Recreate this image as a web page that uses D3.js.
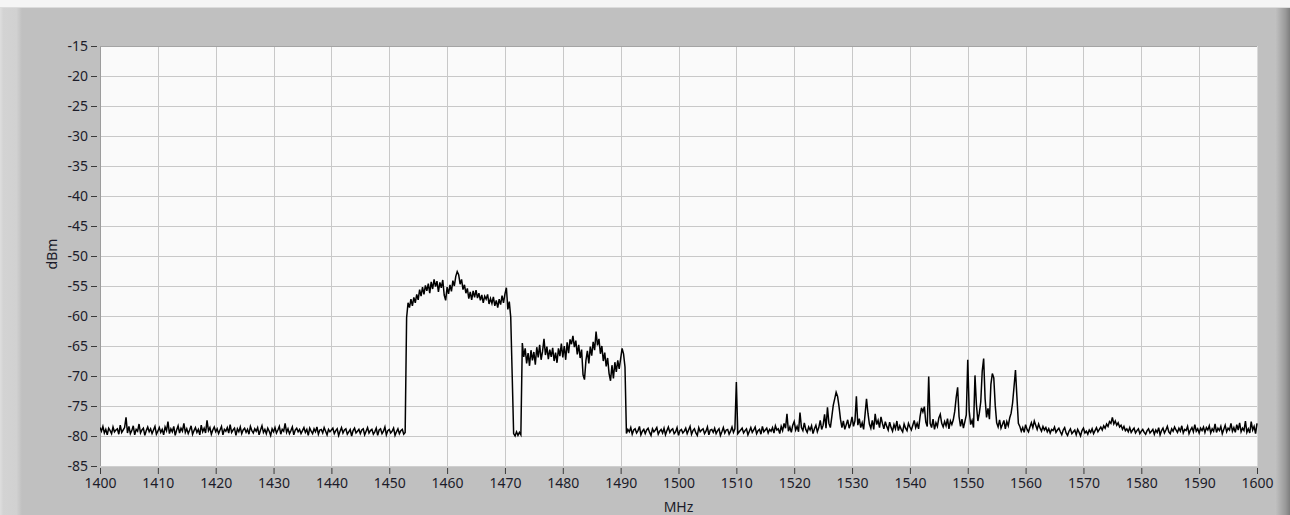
<!DOCTYPE html>
<html>
<head>
<meta charset="utf-8">
<script src="https://cdn.jsdelivr.net/npm/d3@7/dist/d3.min.js"></script>
<style>
  html, body { margin: 0; padding: 0; background: #c0c0c0; }
  svg { display: block; }
  .tick text { font-family: "Noto Sans", "Open Sans", sans-serif; font-size: 14px; fill: #1c1c2a; }
</style>
</head>
<body>
<svg id="chart" width="1290" height="515"></svg>
<script>
// ---------------- data ----------------
const xTickValues = [1400,1410,1420,1430,1440,1450,1460,1470,1480,1490,1500,1510,1520,1530,1540,1550,1560,1570,1580,1590,1600];
const xTickLabels = ["1400","1410","1420","1430","1440","1450","1460","1470","1480","1490","1500","1510","1520","1530","1540","1550","1560","1570","1580","1590","1600"];
const yTickValues = [-15,-20,-25,-30,-35,-40,-45,-50,-55,-60,-65,-70,-75,-80,-85];
const yTickLabels = ["-15","-20","-25","-30","-35","-40","-45","-50","-55","-60","-65","-70","-75","-80","-85"];
const xTitle = "MHz";
const yTitle = "dBm";

// sweep resolution (MHz per bin)
const sweepStep = 0.25;

// 1400 .. 1452.75 MHz
const floorLowStart = 1400;
const floorLow = [
-78.6,-79.2,-78.4,-79.5,-78.9,-79.8,-78.7,-79.1,-79.6,-78.5,-79.3,-79.0,-78.8,-79.7,-78.2,-79.4,-79.0,-78.6,-76.9,-79.5,
-78.4,-79.6,-79.1,-78.3,-79.8,-78.9,-79.2,-78.0,-79.5,-79.0,-78.7,-79.9,-79.1,-78.5,-79.3,-78.8,-79.6,-79.0,-78.4,-79.7,
-79.2,-78.6,-79.4,-78.9,-79.8,-78.5,-79.1,-77.6,-79.6,-78.8,-79.3,-78.4,-79.9,-79.0,-78.3,-79.5,-78.7,-79.2,-77.9,-79.4,
-78.8,-79.6,-79.0,-78.3,-79.7,-79.1,-78.6,-79.4,-78.9,-79.8,-78.2,-79.3,-78.7,-79.5,-77.4,-79.1,-78.6,-79.7,-79.0,-78.5,
-79.3,-78.8,-79.6,-79.0,-78.4,-79.8,-78.9,-79.2,-78.6,-79.5,-78.1,-79.4,-79.0,-78.7,-79.9,-78.8,-79.3,-78.5,-79.6,-79.0,
-78.7,-79.4,-78.9,-79.7,-78.4,-79.1,-79.5,-78.8,-79.2,-78.6,-79.8,-79.0,-78.3,-79.4,-78.9,-79.6,-78.7,-79.2,-79.9,-78.8,
-79.3,-78.6,-79.5,-79.0,-78.4,-79.7,-78.9,-79.2,-77.9,-79.4,-78.8,-79.6,-79.1,-78.5,-79.8,-79.0,-78.7,-79.3,-78.9,-79.6,
-79.1,-78.6,-79.4,-78.9,-79.9,-78.7,-79.2,-79.6,-78.8,-79.3,-78.5,-79.7,-79.0,-78.9,-79.5,-78.6,-79.2,-79.8,-78.9,-79.3,
-79.0,-78.7,-79.6,-79.1,-78.8,-79.9,-79.2,-78.6,-79.5,-79.0,-78.8,-79.7,-79.3,-78.9,-80.0,-79.1,-78.7,-79.5,-79.2,-78.9,
-79.6,-79.0,-78.8,-79.8,-79.2,-78.6,-79.5,-79.1,-78.9,-79.7,-79.3,-78.7,-79.9,-79.0,-78.8,-79.6,-79.2,-78.5,-79.8,-79.1,
-78.9,-79.5,-79.2,-78.7,-79.9,-79.3,-78.8,-79.6,-79.1,-78.9,-79.7,-79.4
];

// 1453 .. 1471 MHz (first carrier)
const bandAStart = 1453;
const bandA = [
-60.3,-57.8,-58.6,-57.2, -58.3,-56.9,-57.8,-56.4, -57.3,-55.6,-56.7,-55.2, -56.4,-54.9,-55.8,-54.6,
-56.2,-54.3,-55.5,-53.9, -55.1,-54.2,-56.0,-54.4, -55.3,-54.0,-56.5,-57.4, -55.2,-56.3,-54.8,-55.9,
-54.1,-55.0,-53.4,-52.6, -53.1,-54.7,-53.9,-55.6, -54.8,-56.2,-55.4,-57.1, -56.0,-57.3,-55.8,-56.9,
-55.7,-57.0,-56.2,-57.4, -56.5,-57.8,-56.7,-57.2, -56.4,-58.0,-57.1,-57.9, -56.8,-58.3,-57.4,-58.6,
-57.2,-58.1,-56.6,-57.8, -56.3,-55.3,-58.9,-57.6, -60.2
];

// 1471.25 .. 1472.75 MHz (gap between carriers)
const notchStart = 1471.25;
const notch = [-69.8,-79.6,-80.0,-79.3,-79.9,-79.4,-79.8];

// 1473 .. 1490.75 MHz (second carrier)
const bandBStart = 1473;
const bandB = [
-64.5,-66.8,-65.4,-67.9, -66.2,-68.3,-65.7,-67.4, -66.0,-68.1,-65.2,-66.9, -64.8,-67.3,-65.9,-63.8,
-66.5,-65.1,-67.2,-65.6, -66.8,-65.3,-67.5,-66.1, -67.8,-65.4,-66.7,-64.6, -66.9,-65.0,-67.3,-64.4,
-66.2,-63.9,-64.7,-63.3, -65.2,-64.1,-66.4,-64.8, -67.0,-65.6,-69.8,-70.6, -67.4,-65.8,-67.9,-65.1,
-66.6,-64.3,-65.7,-62.6, -64.9,-63.8,-66.3,-65.0, -67.5,-66.1,-68.4,-67.0, -69.6,-70.8,-68.2,-70.4,
-67.7,-69.3,-67.4,-68.8, -67.1,-65.4,-66.3,-68.5
];

// 1491 .. 1540.75 MHz
const floorMidStart = 1491;
const floorMid = [
-79.6,-78.9,-79.3,-78.6,-79.7,-79.0,-78.8,-79.5,-79.1,-78.4,-79.8,-79.2,-78.9,-79.6,-79.0,-78.7,-79.4,-79.9,-78.8,-79.3,
-79.0,-78.6,-79.7,-79.2,-78.9,-79.5,-78.7,-79.8,-79.1,-78.5,-79.4,-79.0,-78.8,-79.6,-79.3,-78.6,-79.9,-79.1,-78.9,-79.5,
-79.2,-78.7,-79.6,-79.0,-78.4,-79.7,-79.1,-78.8,-79.5,-79.9,-78.6,-79.3,-79.0,-78.8,-79.6,-79.2,-78.5,-79.8,-79.0,-78.9,
-79.4,-78.7,-79.6,-79.1,-78.8,-79.9,-79.3,-78.6,-79.5,-79.0,-78.9,-79.7,-79.2,-78.5,-79.4,-78.8,-71.0,-79.6,-79.3,-79.0,
-78.7,-79.5,-79.1,-78.8,-79.8,-79.2,-78.6,-79.4,-79.0,-78.5,-79.6,-79.1,-78.9,-79.7,-78.4,-79.3,-79.0,-78.7,-79.5,-78.9,
-79.2,-78.6,-79.5,-78.3,-79.0,-78.8,-79.6,-78.4,-79.1,-77.9,-78.7,-76.3,-79.2,-78.5,-79.4,-78.2,-77.6,-79.0,-78.4,-79.3,
-76.1,-78.6,-79.1,-77.8,-78.9,-79.4,-78.5,-79.0,-78.3,-79.6,-78.8,-78.2,-79.3,-78.6,-77.4,-78.9,-78.2,-76.4,-78.7,-75.2,
-77.9,-78.6,-76.8,-74.9,-73.8,-72.7,-73.4,-75.1,-77.2,-78.6,-77.5,-78.9,-78.1,-77.3,-78.7,-78.0,-76.8,-78.4,-77.5,-73.4,
-78.2,-77.1,-78.6,-77.8,-78.9,-76.4,-73.8,-76.2,-78.0,-78.7,-77.4,-78.9,-76.3,-78.1,-77.4,-78.6,-76.8,-77.9,-78.8,-77.6,
-78.4,-79.0,-77.7,-78.6,-79.2,-78.1,-78.8,-77.5,-79.1,-78.3,-78.9,-79.3,-78.0,-78.7,-79.1,-77.9,-78.5,-79.0,-78.2,-77.4
];

// 1541 .. 1560.75 MHz (spurious emissions)
const spursStart = 1541;
const spurs = [
-78.6,-77.9,-78.8,-76.8,-75.3,-76.0,-75.1,-77.7,-78.4,-70.1,-77.9,-78.6,-77.2,-78.9,-77.8,-78.4,-77.0,-76.4,-77.9,-78.5,
-77.6,-78.3,-77.1,-78.8,-77.5,-78.1,-77.3,-75.9,-73.6,-71.9,-76.8,-78.4,-77.2,-78.7,-77.6,-76.5,-67.3,-75.8,-78.1,-77.4,
-78.6,-69.9,-74.8,-77.5,-76.2,-74.3,-69.2,-67.1,-73.8,-76.9,-75.4,-77.2,-71.4,-69.6,-70.3,-74.9,-77.8,-78.5,-77.3,-78.7,
-78.1,-77.4,-78.8,-77.6,-78.3,-77.0,-76.2,-74.5,-71.8,-69.0,-73.5,-77.9,-78.4,-79.2,-78.6,-79.4,-78.1,-78.9,-79.3,-78.5
];

// 1561 .. 1600 MHz
const floorTailStart = 1561;
const floorTail = [
-77.8,-78.6,-77.5,-78.2,-78.9,-78.0,-78.7,-79.2,-78.4,-79.0,-78.6,-79.3,-78.8,-79.5,-78.9,-79.1,-78.5,-79.4,-79.0,-78.7,
-79.3,-79.8,-79.0,-78.6,-79.5,-79.9,-79.2,-78.8,-79.6,-79.3,-79.0,-79.8,-78.9,-79.4,-80.0,-79.1,-78.7,-79.5,-79.2,-79.7,
-79.0,-79.4,-78.8,-79.6,-79.1,-78.6,-79.3,-78.9,-78.5,-79.0,-78.3,-78.7,-78.0,-78.4,-77.6,-77.9,-76.9,-78.0,-77.5,-78.2,
-77.8,-78.5,-78.2,-78.9,-78.4,-79.1,-78.8,-79.3,-78.6,-79.4,-79.0,-78.7,-79.5,-79.1,-78.8,-79.6,-79.2,-78.9,-79.4,-79.7,
-79.1,-78.8,-79.5,-79.2,-78.9,-79.7,-79.0,-79.4,-78.6,-79.8,-79.1,-78.7,-79.5,-79.0,-78.4,-79.3,-79.6,-78.8,-79.2,-78.5,
-79.0,-79.4,-78.7,-79.2,-78.3,-79.5,-78.9,-79.1,-78.4,-79.6,-79.0,-78.6,-79.3,-78.1,-79.2,-78.8,-79.5,-78.7,-79.1,-78.5,
-79.4,-78.6,-79.0,-78.3,-79.5,-78.8,-79.2,-78.0,-79.4,-78.7,-79.1,-78.4,-79.6,-78.9,-78.2,-79.3,-78.7,-79.0,-77.9,-79.2,
-78.6,-79.4,-78.1,-79.0,-77.8,-79.3,-78.7,-79.1,-77.5,-79.4,-78.8,-79.5,-77.6,-79.0,-78.4,-79.6,-77.9
];

const segments = [
  {start: floorLowStart, values: floorLow},
  {start: bandAStart, values: bandA},
  {start: notchStart, values: notch},
  {start: bandBStart, values: bandB},
  {start: floorMidStart, values: floorMid},
  {start: spursStart, values: spurs},
  {start: floorTailStart, values: floorTail}
];
const trace = segments.flatMap(s => s.values.map((v, i) => ({f: s.start + i * sweepStep, v})));

// ---------------- drawing ----------------
const W = 1290, H = 515;
const plot = {left: 100, right: 1257, top: 46, bottom: 466};
const svg = d3.select("#chart");
const defs = svg.append("defs");

const gl = defs.append("linearGradient").attr("id", "leftEdge").attr("x1", 0).attr("x2", 1).attr("y1", 0).attr("y2", 0);
gl.append("stop").attr("offset", "0%").attr("stop-color", "#dedede");
gl.append("stop").attr("offset", "15%").attr("stop-color", "#d3d3d3");
gl.append("stop").attr("offset", "75%").attr("stop-color", "#d1d1d1");
gl.append("stop").attr("offset", "100%").attr("stop-color", "#c0c0c0");

const gr = defs.append("linearGradient").attr("id", "rightEdge").attr("x1", 0).attr("x2", 1).attr("y1", 0).attr("y2", 0);
gr.append("stop").attr("offset", "0%").attr("stop-color", "#c2c2c2");
gr.append("stop").attr("offset", "25%").attr("stop-color", "#b4b4b4");
gr.append("stop").attr("offset", "70%").attr("stop-color", "#999999");
gr.append("stop").attr("offset", "100%").attr("stop-color", "#7e7e7e");

// frame
svg.append("rect").attr("x", 0).attr("y", 0).attr("width", W).attr("height", H).attr("fill", "#c0c0c0");
svg.append("rect").attr("x", 0).attr("y", 7).attr("width", 22).attr("height", H - 7).attr("fill", "url(#leftEdge)");
svg.append("rect").attr("x", 1275).attr("y", 7).attr("width", 15).attr("height", H - 7).attr("fill", "url(#rightEdge)");
svg.append("rect").attr("x", 0).attr("y", 0).attr("width", W).attr("height", 7).attr("fill", "#f5f5f5");
svg.append("rect").attr("x", 0).attr("y", 7).attr("width", W).attr("height", 1).attr("fill", "#dcdcdc");

const x = d3.scaleLinear().domain([1400, 1600]).range([plot.left, plot.right]);
const y = d3.scaleLinear().domain([-85, -15]).range([plot.bottom, plot.top]);

// plot background
svg.append("rect")
  .attr("x", plot.left).attr("y", plot.top)
  .attr("width", plot.right - plot.left).attr("height", plot.bottom - plot.top)
  .attr("fill", "#fafafa");

// grid
const grid = svg.append("g").attr("shape-rendering", "crispEdges");
grid.selectAll("line.gx").data(xTickValues).join("line").attr("class", "gx")
  .attr("x1", d => Math.round(x(d)) + 0.5).attr("x2", d => Math.round(x(d)) + 0.5)
  .attr("y1", plot.top).attr("y2", plot.bottom)
  .attr("stroke", "#c8c8c8").attr("stroke-width", 1);
grid.selectAll("line.gy").data(yTickValues).join("line").attr("class", "gy")
  .attr("y1", d => Math.round(y(d)) + 0.5).attr("y2", d => Math.round(y(d)) + 0.5)
  .attr("x1", plot.left).attr("x2", plot.right)
  .attr("stroke", "#c8c8c8").attr("stroke-width", 1);

// plot border
svg.append("line").attr("x1", plot.left + 0.5).attr("x2", plot.left + 0.5).attr("y1", plot.top).attr("y2", plot.bottom + 1)
  .attr("stroke", "#9c9c9c");
svg.append("line").attr("x1", plot.left).attr("x2", plot.right + 1).attr("y1", plot.top + 0.5).attr("y2", plot.top + 0.5)
  .attr("stroke", "#a4a4a4");
svg.append("line").attr("x1", plot.right + 0.5).attr("x2", plot.right + 0.5).attr("y1", plot.top).attr("y2", plot.bottom + 1)
  .attr("stroke", "#dadada");
svg.append("line").attr("x1", plot.left).attr("x2", plot.right + 1).attr("y1", plot.bottom + 0.5).attr("y2", plot.bottom + 0.5)
  .attr("stroke", "#cfcfcf");

// trace
defs.append("clipPath").attr("id", "plotClip").append("rect")
  .attr("x", plot.left).attr("y", plot.top)
  .attr("width", plot.right - plot.left + 1).attr("height", plot.bottom - plot.top + 1);
const line = d3.line().x(d => x(d.f)).y(d => y(d.v));
svg.append("path").datum(trace)
  .attr("clip-path", "url(#plotClip)")
  .attr("d", line)
  .attr("fill", "none").attr("stroke", "#000").attr("stroke-width", 1.5)
  .attr("stroke-linejoin", "miter");

// axes
const yAxis = d3.axisLeft(y).tickValues(yTickValues)
  .tickFormat((d, i) => yTickLabels[i]).tickSize(6).tickPadding(3);
const gy = svg.append("g").attr("transform", `translate(${plot.left - 3},0)`).call(yAxis);
gy.select(".domain").remove();
gy.selectAll(".tick line").attr("stroke", "#3a3a3a");

const xAxis = d3.axisBottom(x).tickValues(xTickValues)
  .tickFormat((d, i) => xTickLabels[i]).tickSize(6).tickPadding(4);
const gx = svg.append("g").attr("transform", `translate(0,${plot.bottom + 2})`).call(xAxis);
gx.select(".domain").remove();
gx.selectAll(".tick line").attr("stroke", "#3a3a3a");

// titles
svg.append("text")
  .attr("x", (plot.left + plot.right) / 2).attr("y", 512)
  .attr("text-anchor", "middle")
  .attr("font-family", "Noto Sans, Open Sans, sans-serif").attr("font-size", 14)
  .attr("fill", "#1c1c2a")
  .text(xTitle);
svg.append("text")
  .attr("transform", `translate(57,${(plot.top + plot.bottom) / 2 - 2}) rotate(-90)`)
  .attr("text-anchor", "middle")
  .attr("font-family", "Noto Sans, Open Sans, sans-serif").attr("font-size", 14)
  .attr("fill", "#1c1c2a")
  .text(yTitle);
</script>
</body>
</html>
